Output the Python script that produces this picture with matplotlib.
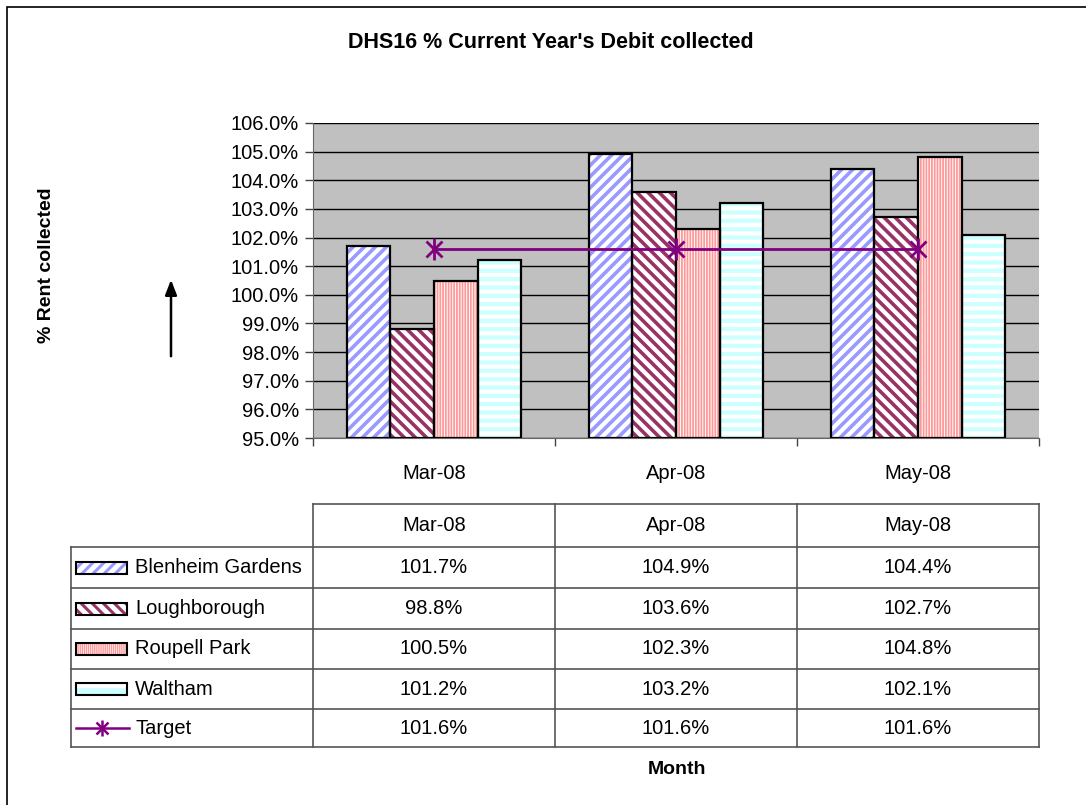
import numpy as np
import matplotlib
matplotlib.use("Agg")
import matplotlib.pyplot as plt
from matplotlib.patches import Rectangle
from matplotlib.lines import Line2D

plt.rcParams['font.family'] = ['Liberation Sans', 'DejaVu Sans']

# data
months = ["Mar-08", "Apr-08", "May-08"]
blenheim = [101.7, 104.9, 104.4]
loughborough = [98.8, 103.6, 102.7]
roupell = [100.5, 102.3, 104.8]
waltham = [101.2, 103.2, 102.1]
target = [101.6, 101.6, 101.6]
series_names = ["Blenheim Gardens", "Loughborough", "Roupell Park", "Waltham"]

# hatch styles: (stripe colour, hatch, hatch linewidth)
styles = [("#9999FF", "///", 2.6),
          ("#993366", "\\\\\\", 2.6),
          ("#FF9999", "||||||", 1.3),
          ("#CCFFFF", "--", 3.0)]
target_col = "#800080"

W, H = 1086, 805
fig = plt.figure(figsize=(W / 100, H / 100), dpi=100)


def fx(px):
    return px / W


def fy(py):
    return 1 - py / H


# outer border (only top/left visible in reference)
fig.add_artist(Rectangle((fx(7), fy(820)), fx(1100), fy(7) - fy(820),
                         transform=fig.transFigure, fill=False,
                         edgecolor="black", lw=1.2))

ax = fig.add_axes([fx(313), fy(438), fx(1039) - fx(313), fy(123) - fy(438)])
ax.set_facecolor("#C0C0C0")

x = np.arange(len(months))
bw = 0.18
all_series = [blenheim, loughborough, roupell, waltham]


def hatched_bar(axis, xs, vals, width, base, style):
    col, h, lw = style
    with plt.rc_context({"hatch.linewidth": lw}):
        bars = axis.bar(xs, np.array(vals) - base, width, bottom=base,
                        facecolor="white", edgecolor=col, hatch=h, lw=0,
                        zorder=2)
        for b in bars:
            if hasattr(b, "set_hatch_linewidth"):
                b.set_hatch_linewidth(lw)
    axis.bar(xs, np.array(vals) - base, width, bottom=base, fill=False,
             edgecolor="black", lw=1.6, zorder=3)


for i, (vals, st) in enumerate(zip(all_series, styles)):
    hatched_bar(ax, x + (i - 1.5) * bw, vals, bw, 95, st)

ax.plot(x, target, color=target_col, lw=2, zorder=4)
ax.plot(x, target, color=target_col, lw=0, marker="x", ms=12, mew=2, zorder=4)
ax.plot(x, target, color=target_col, lw=0, marker="|", ms=16, mew=2, zorder=4)

ax.set_ylim(95, 106)
ax.set_xlim(-0.5, 2.5)
ax.set_yticks(np.arange(95, 106.1, 1))
ax.set_yticklabels([f"{v:.1f}%" for v in np.arange(95, 106.1, 1)])
ax.yaxis.grid(True, color="black", lw=1)
ax.set_axisbelow(True)
ax.set_xticks([-0.5, 0.5, 1.5, 2.5])
ax.set_xticklabels([])
ax.set_xticks(x, minor=True)
ax.set_xticklabels(months, minor=True)
ax.tick_params(axis="x", which="minor", length=0, pad=19, labelsize=14.5)
ax.tick_params(axis="x", which="major", length=6, width=1, color="#444444")
ax.tick_params(axis="y", length=6, width=1, color="#444444", labelsize=14.5,
               pad=4)
for s in ["top", "right"]:
    ax.spines[s].set_visible(False)
ax.spines["left"].set_color("#666666")
ax.spines["bottom"].set_color("#666666")

# title and axis labels
fig.text(fx(551), fy(43), "DHS16 % Current Year's Debit collected",
         ha="center", va="center", fontsize=15.5, fontweight="bold")
fig.text(fx(47), fy(265), "% Rent collected", ha="center", va="center",
         rotation=90, fontsize=14, fontweight="bold")
ax.annotate("", xy=(fx(171), fy(277)), xytext=(fx(171), fy(359)),
            xycoords="figure fraction", textcoords="figure fraction",
            arrowprops=dict(arrowstyle="-|>,head_length=0.9,head_width=0.35",
                            color="black", lw=1.8))
fig.text(fx(677), fy(769), "Month", ha="center", va="center",
         fontsize=14, fontweight="bold")

# data table
cols = [313, 555, 797, 1039]
rows = [504, 547, 588, 629, 669, 709, 747]
left = 71
lc = "#555555"


def fline(x0, y0, x1, y1):
    fig.add_artist(Line2D([fx(x0), fx(x1)], [fy(y0), fy(y1)],
                          transform=fig.transFigure, color=lc, lw=1.2))


fline(cols[0], rows[0], cols[-1], rows[0])
for r in rows[1:]:
    fline(left, r, cols[-1], r)
fline(left, rows[1], left, rows[-1])
for c in cols:
    fline(c, rows[0], c, rows[-1])

for j, m in enumerate(months):
    fig.text(fx((cols[j] + cols[j + 1]) / 2), fy((rows[0] + rows[1]) / 2), m,
             ha="center", va="center", fontsize=14.5)

key_hatch = ["///", "\\\\\\", "||||||||", "-"]
key_lw = [2.2, 2.2, 1.0, 5.0]
table_vals = all_series + [target]
table_names = series_names + ["Target"]
for i, (name, vals) in enumerate(zip(table_names, table_vals)):
    yc = (rows[i + 1] + rows[i + 2]) / 2
    fig.text(fx(135), fy(yc), name, ha="left", va="center", fontsize=14.5)
    for j, v in enumerate(vals):
        fig.text(fx((cols[j] + cols[j + 1]) / 2), fy(yc), f"{v:.1f}%",
                 ha="center", va="center", fontsize=14.5)
    if i < 4:
        col = styles[i][0]
        klw = key_lw[i]
        with plt.rc_context({"hatch.linewidth": klw}):
            p = Rectangle((fx(76), fy(yc + 6)), fx(127) - fx(76),
                          fy(yc - 6) - fy(yc + 6), transform=fig.transFigure,
                          facecolor="white", edgecolor=col, hatch=key_hatch[i],
                          lw=0)
            if hasattr(p, "set_hatch_linewidth"):
                p.set_hatch_linewidth(klw)
        fig.add_artist(p)
        fig.add_artist(Rectangle((fx(76), fy(yc + 6)), fx(127) - fx(76),
                                 fy(yc - 6) - fy(yc + 6),
                                 transform=fig.transFigure, fill=False,
                                 edgecolor="black", lw=1.5))
    else:
        fig.add_artist(Line2D([fx(76), fx(129)], [fy(yc), fy(yc)],
                              transform=fig.transFigure, color=target_col,
                              lw=1.8))
        fig.add_artist(Line2D([fx(102)], [fy(yc)], transform=fig.transFigure,
                              color=target_col, marker="x", ms=9, mew=1.8))
        fig.add_artist(Line2D([fx(102)], [fy(yc)], transform=fig.transFigure,
                              color=target_col, marker="|", ms=12, mew=1.8))

fig.savefig("out.png", dpi=100)
